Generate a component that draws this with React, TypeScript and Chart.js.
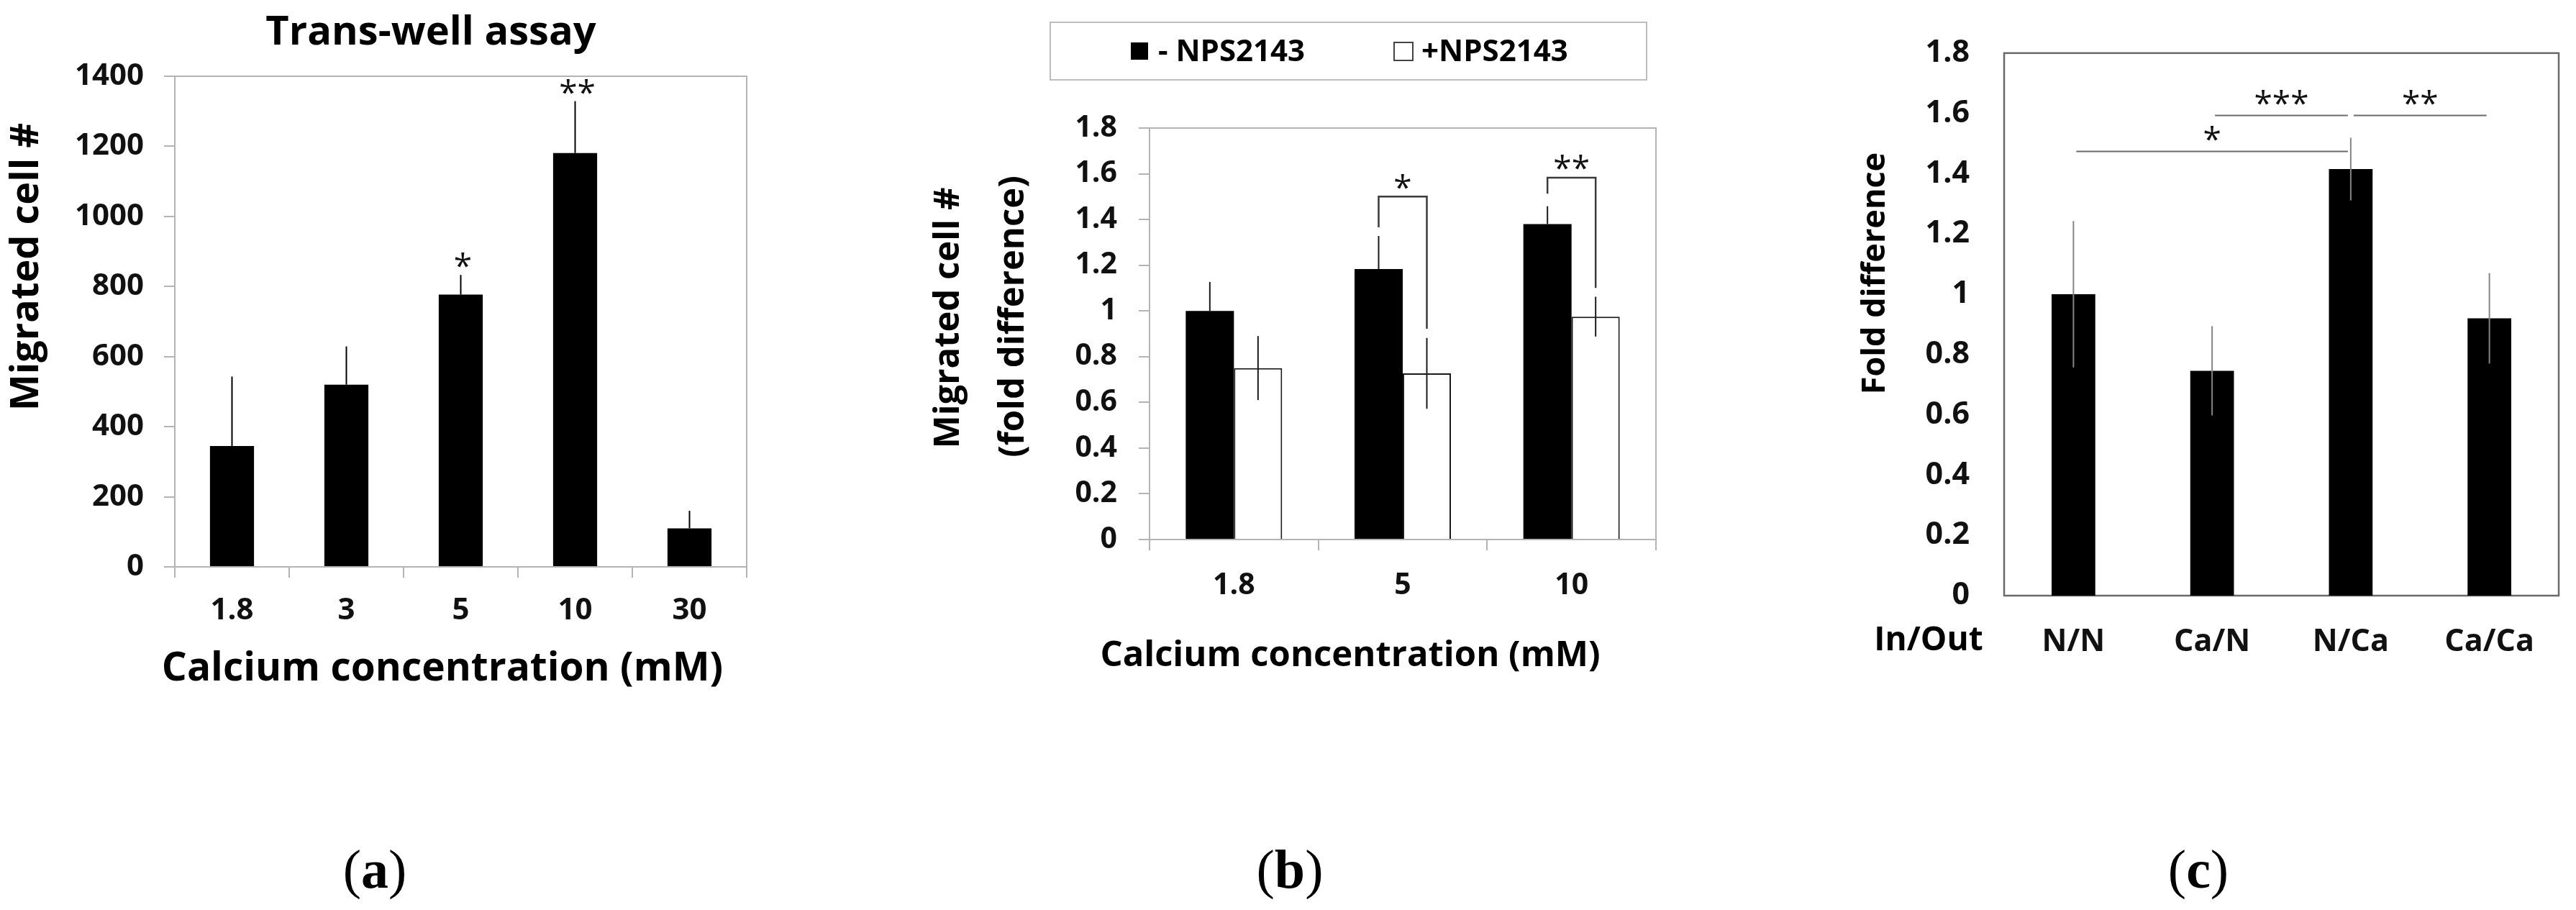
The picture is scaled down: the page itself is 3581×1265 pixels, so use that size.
import React, { useEffect, useRef } from 'react';
import { Chart, registerables } from 'chart.js';

Chart.register(...registerables);

const FONT = '"Open Sans", "Noto Sans", "DejaVu Sans", sans-serif';
const SERIF = '"Liberation Serif", "DejaVu Serif", serif';

// ---------- Panel (a) data ----------
const aTitle = 'Trans-well assay';
const aYTitle = 'Migrated cell #';
const aXTitle = 'Calcium concentration (mM)';
const aCategories = ['1.8', '3', '5', '10', '30'];
const aValues = [345, 520, 777, 1181, 110];
const aErrors = [198, 109, 56, 148, 50];
const aYRange = [0, 1400, 200];
const aStars = [
  { index: 2, text: '*' },
  { index: 3, text: '**' },
];

// ---------- Panel (b) data ----------
const bYTitle = ['Migrated cell #', '(fold difference)'];
const bXTitle = 'Calcium concentration (mM)';
const bCategories = ['1.8', '5', '10'];
const bSeriesNames = ['- NPS2143', '+NPS2143'];
const bMinus = [1.0, 1.183, 1.38];
const bMinusErr = [0.127, 0.145, 0.078];
const bPlus = [0.75, 0.727, 0.975];
const bPlusErr = [0.14, 0.155, 0.087];
const bYRange = [0, 1.8, 0.2];
const bBrackets = [
  { index: 1, top: 1.5, leftEnd: 1.366, rightEnd: 0.922, text: '*' },
  { index: 2, top: 1.583, leftEnd: 1.513, rightEnd: 1.101, text: '**' },
];

// ---------- Panel (c) data ----------
const cYTitle = 'Fold difference';
const cXTitle = 'In/Out';
const cCategories = ['N/N', 'Ca/N', 'N/Ca', 'Ca/Ca'];
const cValues = [1.0, 0.746, 1.415, 0.92];
const cErrors = [0.243, 0.148, 0.104, 0.15];
const cYRange = [0, 1.8, 0.2];
const cSigLines = [
  { from: 0, to: 2, y: 1.474, text: '*' },
  { from: 1, to: 2, y: 1.593, text: '***' },
  { from: 2, to: 3, y: 1.593, text: '**' },
];

const panelLetters = ['a', 'b', 'c'];

const H = 1265;

function txt(ctx: CanvasRenderingContext2D, s: string, x: number, y: number, size: number, o: any = {}) {
  ctx.save();
  ctx.font = `${o.weight ?? 'bold'} ${size}px ${o.family ?? FONT}`;
  ctx.fillStyle = o.color ?? '#000';
  ctx.textAlign = o.align ?? 'center';
  ctx.textBaseline = o.baseline ?? 'middle';
  ctx.translate(x, y);
  if (o.rotate) ctx.rotate(o.rotate);
  ctx.fillText(s, 0, 0);
  ctx.restore();
}

function star(ctx: CanvasRenderingContext2D, s: string, x: number, yCenter: number, size = 46) {
  txt(ctx, s, x, yCenter + 0.57 * size, size, { weight: 'normal', baseline: 'alphabetic', color: '#111' });
}

function line(ctx: CanvasRenderingContext2D, x1: number, y1: number, x2: number, y2: number, color: string, w: number) {
  ctx.save();
  ctx.strokeStyle = color;
  ctx.lineWidth = w;
  ctx.beginPath();
  ctx.moveTo(x1, y1);
  ctx.lineTo(x2, y2);
  ctx.stroke();
  ctx.restore();
}

function panelLabel(ctx: CanvasRenderingContext2D, letter: string, cx: number, baseline: number) {
  const size = 76;
  ctx.save();
  ctx.fillStyle = '#000';
  ctx.textBaseline = 'alphabetic';
  ctx.textAlign = 'left';
  const normal = `normal ${size}px ${SERIF}`;
  const bold = `bold ${size}px ${SERIF}`;
  ctx.font = normal;
  const wp = ctx.measureText('(').width;
  const wq = ctx.measureText(')').width;
  ctx.font = bold;
  const wl = ctx.measureText(letter).width;
  let x = cx - (wp + wl + wq) / 2;
  ctx.font = normal;
  ctx.fillText('(', x, baseline);
  x += wp;
  ctx.font = bold;
  ctx.fillText(letter, x, baseline);
  x += wl;
  ctx.font = normal;
  ctx.fillText(')', x, baseline);
  ctx.restore();
}

const decorPlugin = {
  id: 'decor',
  beforeDatasetsDraw(chart: any, _args: any, opts: any) {
    const { ctx, chartArea: ca } = chart;
    if (opts.frame) {
      ctx.save();
      ctx.strokeStyle = opts.frame.color;
      ctx.lineWidth = opts.frame.width;
      ctx.strokeRect(ca.left, ca.top, ca.right - ca.left, ca.bottom - ca.top);
      ctx.restore();
    }
  },
  afterDatasetsDraw(chart: any, _args: any, opts: any) {
    const { ctx } = chart;
    const ys = chart.scales.y;
    (opts.errorBars || []).forEach((eb: any) => {
      const meta = chart.getDatasetMeta(eb.dataset);
      const vals = chart.data.datasets[eb.dataset].data;
      meta.data.forEach((el: any, i: number) => {
        const v = vals[i];
        const e = eb.errors[i];
        const yTop = ys.getPixelForValue(v + e);
        const yBot = ys.getPixelForValue(eb.both ? v - e : v);
        line(ctx, el.x, yTop, el.x, yBot, eb.color, eb.width);
      });
    });
    if (opts.draw) opts.draw(chart, ctx);
  },
  afterDraw(chart: any, _args: any, opts: any) {
    if (opts.texts) opts.texts(chart, chart.ctx);
  },
};

const fmt = (v: any) => `${Math.round(Number(v) * 10) / 10}`;

function yScale(range: number[], o: any) {
  return {
    min: range[0],
    max: range[1],
    ticks: {
      stepSize: range[2],
      color: '#111',
      font: { family: FONT, size: o.tickFont, weight: 'bold' },
      padding: o.tickPad,
      callback: fmt,
    },
    grid: {
      display: o.ticks,
      drawOnChartArea: false,
      drawTicks: o.ticks,
      tickLength: 15,
      color: o.color,
      lineWidth: 2,
    },
    border: { display: true, color: o.color, width: 2 },
    afterFit: (s: any) => {
      s.width = o.width;
    },
  };
}

function xScale(o: any) {
  return {
    type: 'category',
    offset: true,
    ticks: {
      color: '#111',
      font: { family: FONT, size: o.tickFont, weight: 'bold' },
      padding: o.tickPad,
      autoSkip: false,
      maxRotation: 0,
    },
    grid: {
      display: o.ticks,
      offset: true,
      drawOnChartArea: false,
      drawTicks: o.ticks,
      tickLength: 15,
      color: o.color,
      lineWidth: 2,
    },
    border: { display: true, color: o.color, width: 2 },
    afterFit: (s: any) => {
      s.height = o.height;
    },
  };
}

function baseOptions(layout: any, scales: any, decor: any) {
  return {
    responsive: false,
    animation: false,
    devicePixelRatio: 1,
    layout: { autoPadding: false, padding: layout },
    scales,
    plugins: {
      legend: { display: false },
      tooltip: { enabled: false },
      title: { display: false },
      decor,
    },
  };
}

// ---------- Panel configs ----------
const A_W = 1190;
function configA(): any {
  const L = 243, R = 1038, T = 106, B = 788;
  const gray = '#b4b4b4';
  return {
    type: 'bar',
    data: {
      labels: aCategories,
      datasets: [
        { data: aValues, backgroundColor: '#000', borderWidth: 0, categoryPercentage: 0.385, barPercentage: 1 },
      ],
    },
    options: baseOptions(
      { left: 0, top: T, right: A_W - R, bottom: 0 },
      {
        x: xScale({ tickFont: 42, tickPad: 21, ticks: true, color: gray, height: H - B }),
        y: yScale(aYRange, { tickFont: 42, tickPad: 28, ticks: true, color: gray, width: L }),
      },
      {
        frame: { color: gray, width: 2 },
        errorBars: [{ dataset: 0, errors: aErrors, both: false, color: '#000', width: 2 }],
        draw: (chart: any, ctx: CanvasRenderingContext2D) => {
          const ys = chart.scales.y;
          const meta = chart.getDatasetMeta(0);
          aStars.forEach((s) => {
            const el = meta.data[s.index];
            const y = ys.getPixelForValue(aValues[s.index] + aErrors[s.index]);
            star(ctx, s.text, el.x + 3, y - 22);
          });
        },
        texts: (_chart: any, ctx: CanvasRenderingContext2D) => {
          txt(ctx, aTitle, 599, 46, 56);
          txt(ctx, aYTitle, 38, 371, 54, { rotate: -Math.PI / 2 });
          txt(ctx, aXTitle, 615, 930, 55);
          panelLabel(ctx, panelLetters[0], 521, 1234);
        },
      }
    ),
    plugins: [decorPlugin],
  };
}

const B_X = 1190;
const B_W = 1260;
function configB(): any {
  const L = 408, R = 1112, T = 178, B = 750;
  const gray = '#b4b4b4';
  return {
    type: 'bar',
    data: {
      labels: bCategories,
      datasets: [
        { label: bSeriesNames[0], data: bMinus, backgroundColor: '#000', borderWidth: 0, categoryPercentage: 0.571, barPercentage: 1 },
        { label: bSeriesNames[1], data: bPlus, backgroundColor: '#fff', borderColor: '#1a1a1a', borderWidth: 2, categoryPercentage: 0.571, barPercentage: 1 },
      ],
    },
    options: baseOptions(
      { left: 0, top: T, right: B_W - R, bottom: 0 },
      {
        x: xScale({ tickFont: 41, tickPad: 25, ticks: true, color: gray, height: H - B }),
        y: yScale(bYRange, { tickFont: 41, tickPad: 30, ticks: true, color: gray, width: L }),
      },
      {
        frame: { color: gray, width: 2 },
        errorBars: [
          { dataset: 0, errors: bMinusErr, both: false, color: '#1a1a1a', width: 2 },
          { dataset: 1, errors: bPlusErr, both: true, color: '#1a1a1a', width: 2 },
        ],
        draw: (chart: any, ctx: CanvasRenderingContext2D) => {
          const ys = chart.scales.y;
          const m0 = chart.getDatasetMeta(0);
          const m1 = chart.getDatasetMeta(1);
          bBrackets.forEach((b) => {
            const x1 = m0.data[b.index].x;
            const x2 = m1.data[b.index].x;
            const yt = ys.getPixelForValue(b.top);
            ctx.save();
            ctx.strokeStyle = '#3a3a3a';
            ctx.lineWidth = 2.5;
            ctx.beginPath();
            ctx.moveTo(x1, ys.getPixelForValue(b.leftEnd));
            ctx.lineTo(x1, yt);
            ctx.lineTo(x2, yt);
            ctx.lineTo(x2, ys.getPixelForValue(b.rightEnd));
            ctx.stroke();
            ctx.restore();
            star(ctx, b.text, (x1 + x2) / 2, yt - 23);
          });
        },
        texts: (_chart: any, ctx: CanvasRenderingContext2D) => {
          // legend
          ctx.save();
          ctx.strokeStyle = '#bdbdbd';
          ctx.lineWidth = 2;
          ctx.strokeRect(270, 31, 829, 80);
          ctx.fillStyle = '#000';
          ctx.fillRect(382, 59, 24, 24);
          ctx.fillStyle = '#fff';
          ctx.fillRect(748, 59, 26, 25);
          ctx.strokeStyle = '#444';
          ctx.lineWidth = 2;
          ctx.strokeRect(748, 59, 26, 25);
          ctx.restore();
          txt(ctx, bSeriesNames[0], 420, 85, 42, { align: 'left', baseline: 'alphabetic' });
          txt(ctx, bSeriesNames[1], 786, 85, 42, { align: 'left', baseline: 'alphabetic' });
          txt(ctx, bYTitle[0], 129, 442, 49, { rotate: -Math.PI / 2 });
          txt(ctx, bYTitle[1], 219, 440, 49, { rotate: -Math.PI / 2 });
          txt(ctx, bXTitle, 687, 912, 49);
          panelLabel(ctx, panelLetters[1], 603, 1234);
        },
      }
    ),
    plugins: [decorPlugin],
  };
}

const C_X = 2450;
const C_W = 1131;
function configC(): any {
  const L = 336, R = 1107, T = 28, B = 828;
  const dark = '#6a6a6a';
  return {
    type: 'bar',
    data: {
      labels: cCategories,
      datasets: [
        { data: cValues, backgroundColor: '#000', borderWidth: 0, categoryPercentage: 0.315, barPercentage: 1 },
      ],
    },
    options: baseOptions(
      { left: 0, top: T, right: C_W - R, bottom: 0 },
      {
        x: xScale({ tickFont: 43, tickPad: 39, ticks: false, color: dark, height: H - B }),
        y: yScale(cYRange, { tickFont: 43, tickPad: 48, ticks: false, color: dark, width: L }),
      },
      {
        frame: { color: dark, width: 2.5 },
        errorBars: [{ dataset: 0, errors: cErrors, both: true, color: '#858585', width: 2 }],
        draw: (chart: any, ctx: CanvasRenderingContext2D) => {
          const ys = chart.scales.y;
          const meta = chart.getDatasetMeta(0);
          cSigLines.forEach((s) => {
            const x1 = meta.data[s.from].x + 4;
            const x2 = meta.data[s.to].x - 4;
            const y = ys.getPixelForValue(s.y);
            line(ctx, x1, y, x2, y, '#6a6a6a', 2);
            star(ctx, s.text, (x1 + x2) / 2, y - 27);
          });
        },
        texts: (_chart: any, ctx: CanvasRenderingContext2D) => {
          txt(ctx, cYTitle, 157, 380, 45, { rotate: -Math.PI / 2 });
          txt(ctx, cXTitle, 231, 891, 46);
          panelLabel(ctx, panelLetters[2], 606, 1234);
        },
      }
    ),
    plugins: [decorPlugin],
  };
}

function ChartCanvas({ left, width, make }: { left: number; width: number; make: () => any }) {
  const ref = useRef<HTMLCanvasElement>(null);
  useEffect(() => {
    const chart = new Chart(ref.current as HTMLCanvasElement, make());
    return () => chart.destroy();
  }, []);
  return (
    <canvas
      ref={ref}
      width={width}
      height={H}
      style={{ position: 'absolute', left, top: 0, width, height: H }}
    />
  );
}

export default function App() {
  useEffect(() => {
    document.body.style.margin = '0';
    document.body.style.background = '#fff';
  }, []);
  return (
    <div style={{ position: 'relative', width: 3581, height: H, background: '#fff', overflow: 'hidden' }}>
      <ChartCanvas left={0} width={A_W} make={configA} />
      <ChartCanvas left={B_X} width={B_W} make={configB} />
      <ChartCanvas left={C_X} width={C_W} make={configC} />
    </div>
  );
}
